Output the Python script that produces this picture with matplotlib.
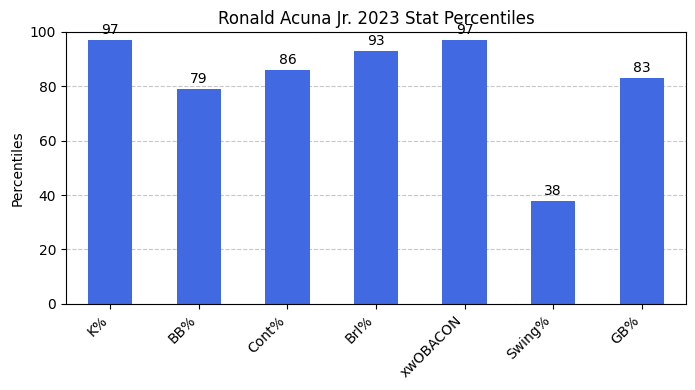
import matplotlib
matplotlib.use("Agg")
import matplotlib.pyplot as plt

stats = ["K%", "BB%", "Cont%", "Brl%", "xwOBACON", "Swing%", "GB%"]
percentiles = [97, 79, 86, 93, 97, 38, 83]

fig, ax = plt.subplots(figsize=(6.95, 3.9), dpi=100)
fig.subplots_adjust(left=0.095, right=0.987, top=0.918, bottom=0.221)

bars = ax.bar(stats, percentiles, width=0.5, color="royalblue", zorder=2)
for b, v in zip(bars, percentiles):
    ax.text(b.get_x() + b.get_width() / 2, v + 1, str(v), ha="center", va="bottom", fontsize=10)

ax.set_xlim(-0.5, len(stats) - 0.5)
ax.set_ylim(0, 100)
ax.set_ylabel("Percentiles")
ax.set_title("Ronald Acuna Jr. 2023 Stat Percentiles")
ax.yaxis.grid(True, linestyle="--", alpha=0.7, zorder=0)
plt.setp(ax.get_xticklabels(), rotation=45, ha="right")

fig.savefig("out.png")
